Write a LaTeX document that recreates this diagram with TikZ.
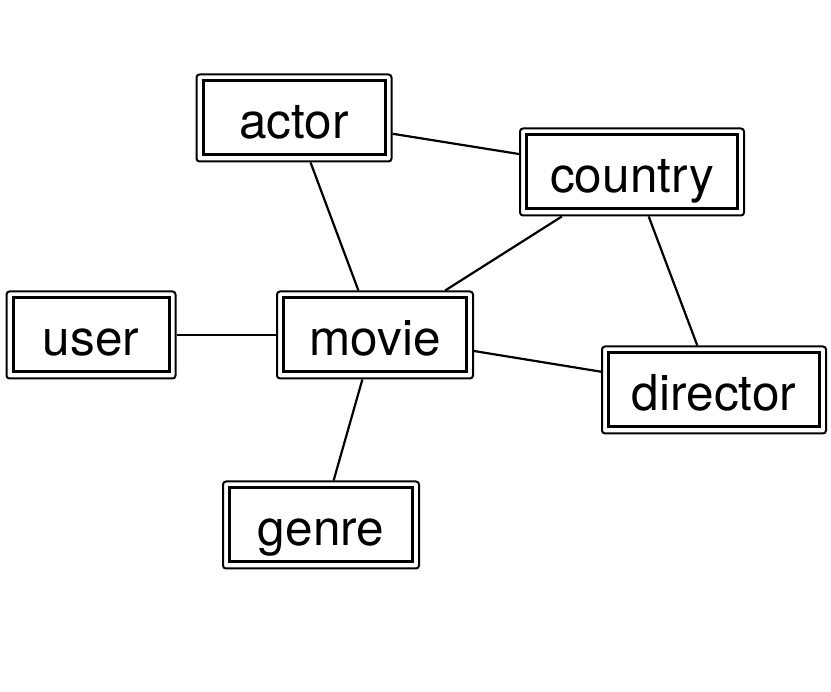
\documentclass[tikz,border=0pt]{standalone}
\usepackage{fontspec}
\setmainfont{TeX Gyre Heros}
\usetikzlibrary{positioning}

\tikzset{
  entity/.style={draw, line width=2pt, rounded corners=3pt, fill=white,
    minimum height=87pt, inner sep=0pt, outer sep=1pt,
    text height=42pt, text depth=0pt,
    font=\fontsize{49.5}{59}\selectfont,
    path picture={\draw[line width=3pt, sharp corners]
      ([shift={(6.5pt,6.5pt)}]path picture bounding box.south west) rectangle
      ([shift={(-6.5pt,-6.5pt)}]path picture bounding box.north east);}},
  link/.style={line width=2.2pt}
}

\begin{document}
\begin{tikzpicture}[x=1pt,y=-1pt]
  \useasboundingbox (0,0) rectangle (831,692);
  \node[entity, minimum width=195pt] (actor)    at (294,118) {actor};
  \node[entity, minimum width=224pt] (country)  at (632,172) {country};
  \node[entity, minimum width=169pt] (user)     at (91,335)  {user};
  \node[entity, minimum width=196pt] (movie)    at (375,335) {movie};
  \node[entity, minimum width=224pt] (director) at (714,390) {director};
  \node[entity, minimum width=196pt] (genre)    at (321,525) {genre};

  \draw[link] (actor) -- (country);
  \draw[link] (actor) -- (movie);
  \draw[link] (country) -- (movie);
  \draw[link] (country) -- (director);
  \draw[link] (movie) -- (director);
  \draw[link] (user) -- (movie);
  \draw[link] (movie) -- (genre);
\end{tikzpicture}
\end{document}
